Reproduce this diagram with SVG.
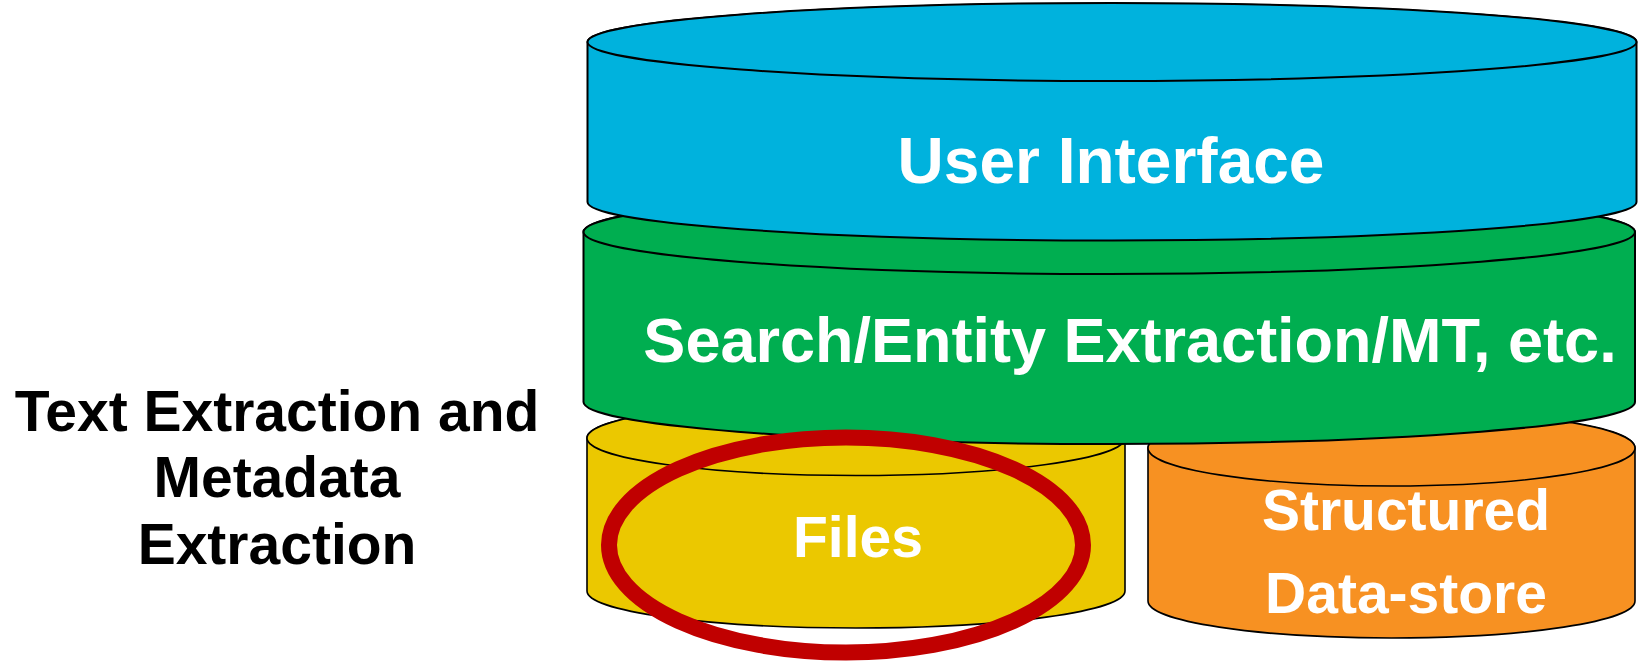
<svg xmlns="http://www.w3.org/2000/svg" width="1640" height="663" viewBox="0 0 1640 663">
  <style>
    .cyl { stroke: #000; stroke-width: 2; }
    .thin { stroke-width: 1.6; }
    .blue { fill: #00B2DD; }
    .green { fill: #00AE50; }
    .yellow { fill: #EBC800; }
    .orange { fill: #F79122; }
    .lbl { font-family: "Liberation Sans", Arial, sans-serif; font-weight: bold; fill: #fff; text-anchor: middle; }
    .side { font-family: "Liberation Sans", Arial, sans-serif; font-weight: bold; fill: #000; text-anchor: middle; font-size: 57px; }
  </style>
  <rect width="1640" height="663" fill="#fff"/>

  <g id="structured-data-store">
    <path class="cyl thin orange" d="M1148,448 V601 A243.5,37 0 0 0 1635,601 V448 A243.5,37 0 0 0 1148,448 Z"/>
    <ellipse class="cyl thin orange" cx="1391.5" cy="448" rx="243.5" ry="38"/>
    <text class="lbl" x="1406" y="530" font-size="57">Structured</text>
    <text class="lbl" x="1406" y="613" font-size="57">Data-store</text>
  </g>

  <g id="files">
    <path class="cyl thin yellow" d="M587,438 V591 A269,37 0 0 0 1125,591 V438 A269,37 0 0 0 587,438 Z"/>
    <ellipse class="cyl thin yellow" cx="856" cy="438" rx="269" ry="37.5"/>
    <text class="lbl" x="858" y="557" font-size="57">Files</text>
  </g>

  <g id="search-layer">
    <path class="cyl green" d="M583.5,232 V402 A525.75,42 0 0 0 1635,402 V232 A525.75,42 0 0 0 583.5,232 Z"/>
    <ellipse class="cyl green" cx="1109.25" cy="232" rx="525.75" ry="42"/>
    <text class="lbl" x="1130" y="362" font-size="63">Search/Entity Extraction/MT, etc.</text>
  </g>

  <g id="user-interface">
    <path class="cyl blue" d="M587.5,42 V202 A524.5,38.5 0 0 0 1636.5,202 V42 A524.5,38.5 0 0 0 587.5,42 Z"/>
    <ellipse class="cyl blue" cx="1112" cy="42" rx="524.5" ry="39"/>
    <text class="lbl" x="1111" y="183" font-size="64">User Interface</text>
  </g>

  <g id="highlight">
    <ellipse cx="846" cy="545" rx="237" ry="107.5" fill="none" stroke="#C00000" stroke-width="16"/>
  </g>

  <g id="text-extraction-label">
    <text class="side" x="277" y="431">Text Extraction and</text>
    <text class="side" x="277" y="497">Metadata</text>
    <text class="side" x="277" y="564">Extraction</text>
  </g>

  <g id="connectors"></g>
</svg>
